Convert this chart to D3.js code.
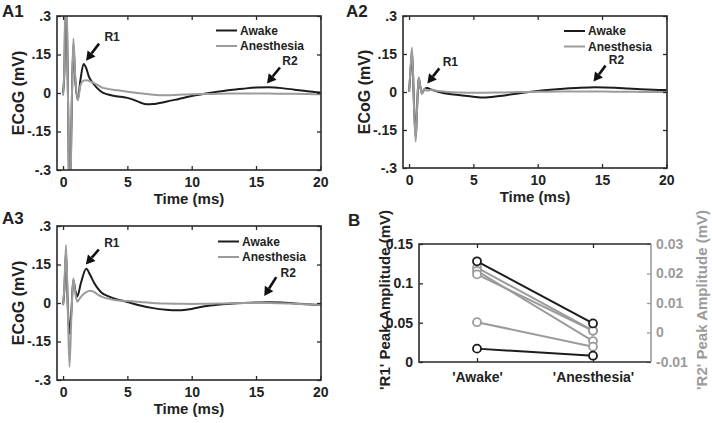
<!DOCTYPE html>
<html><head><meta charset="utf-8">
<script src="https://cdn.jsdelivr.net/npm/d3@7"></script>
<style>
body{margin:0;background:#fff}
svg{display:block}
text{font-family:"Liberation Sans",Arial,sans-serif;font-weight:bold}
</style>
</head><body><svg id="c" width="712" height="423" fill="#222"></svg>
<script>
// ---------------- data ----------------
const seriesNames = ["Awake", "Anesthesia"];
const timeTicks = [0, 5, 10, 15, 20];
const ecogTicks = [-0.3, -0.15, 0, 0.15, 0.3];
const ecogTickLabels = ["-.3", "-.15", "0", ".15", ".3"];

// Panel A1 (time in ms, ECoG in mV)
const a1Time  = [0, 0.1, 0.22, 0.38, 0.52, 0.66, 0.8, 0.95, 1.15, 1.35, 1.6, 1.8, 2.0, 2.3, 2.6, 3, 3.5, 4, 4.5, 5, 5.5, 6, 6.5, 7, 8, 9, 10, 11, 12, 13, 14, 15, 16, 17, 18, 19, 20];
const a1Awake = [0, 0.08, 0.45, 0, -0.5, -0.1, 0.19, 0.05, -0.025, 0.05, 0.113, 0.097, 0.065, 0.04, 0.022, 0.004, -0.006, -0.012, -0.015, -0.019, -0.027, -0.037, -0.044, -0.043, -0.034, -0.023, -0.012, -0.003, 0.005, 0.012, 0.017, 0.021, 0.022, 0.019, 0.013, 0.007, 0.002];
const a1Anes  = [-0.01, 0.1, 0.5, 0, -0.55, -0.1, 0.212, 0.06, -0.028, 0.03, 0.048, 0.05, 0.048, 0.041, 0.034, 0.022, 0.016, 0.012, 0.009, 0.005, 0.002, -0.001, -0.004, -0.007, -0.009, -0.007, -0.005, -0.004, -0.003, -0.002, -0.002, -0.002, -0.002, -0.003, -0.003, -0.004, -0.005];

// Panel A2
const a2Time  = [0, 0.1, 0.23, 0.38, 0.52, 0.65, 0.75, 0.88, 1.0, 1.2, 1.4, 1.7, 2, 2.5, 3, 4, 5, 5.8, 7, 8, 9, 10, 11, 12, 13, 14.5, 16, 17, 18, 19, 20];
const a2Awake = [0, 0.07, 0.16, -0.04, -0.18, -0.03, 0.055, 0.02, -0.005, 0.012, 0.016, 0.01, 0.005, -0.002, -0.007, -0.013, -0.019, -0.022, -0.016, -0.009, -0.002, 0.004, 0.009, 0.013, 0.016, 0.019, 0.017, 0.014, 0.011, 0.009, 0.008];
const a2Anes  = [0, 0.08, 0.176, -0.05, -0.196, -0.03, 0.058, 0.02, -0.008, 0.012, 0.005, 0.008, 0.006, 0.003, 0, -0.002, -0.003, -0.003, -0.002, -0.001, 0, 0.001, 0.001, 0.002, 0.002, 0.002, 0.001, 0.001, 0, 0, 0];

// Panel A3
const a3Time  = [0, 0.1, 0.23, 0.36, 0.5, 0.65, 0.8, 0.95, 1.1, 1.4, 1.8, 2.1, 2.4, 2.7, 3, 3.5, 4, 5, 6, 7, 8, 9, 10, 11, 12, 13, 14, 15, 16, 17, 18, 19, 20];
const a3Awake = [-0.008, 0.05, 0.2, 0, -0.12, -0.03, 0.09, 0.05, 0.025, 0.08, 0.133, 0.11, 0.08, 0.057, 0.04, 0.027, 0.017, 0.004, -0.01, -0.02, -0.026, -0.028, -0.023, -0.013, -0.007, -0.003, 0, 0.002, 0.003, 0.002, -0.002, -0.005, -0.008];
const a3Anes  = [-0.008, 0.06, 0.226, 0, -0.248, -0.05, 0.096, 0.04, 0.005, 0.025, 0.042, 0.048, 0.043, 0.033, 0.025, 0.017, 0.012, 0.008, 0.004, 0, -0.002, -0.003, -0.004, -0.003, -0.002, -0.001, 0, 0, 0, -0.001, -0.003, -0.005, -0.008];

// Panel B (peak amplitudes, mV)
const bCategories = ["'Awake'", "'Anesthesia'"];
const r1Awake = [0.128, 0.017];
const r1Anes  = [0.049, 0.008];
const r2Awake = [0.022, 0.0209, 0.0197, 0.0035];
const r2Anes  = [0.0006, -0.0029, 0.0006, -0.0048];
const r1Ticks = [0, 0.05, 0.1, 0.15];
const r1TickLabels = ["0", "0.05", "0.1", "0.15"];
const r2Ticks = [-0.01, 0, 0.01, 0.02, 0.03];
const r2TickLabels = ["-0.01", "0", "0.01", "0.02", "0.03"];

// ---------------- drawing ----------------
const BLACK = "#1c1c1c", GRAY = "#9b9b9b", AX = "#2a2a2a", TXT = "#222";
const svg = d3.select("#c");

function arrow(g, tipX, tipY, dx, dy) {
  const tx = tipX + dx, ty = tipY + dy;
  const len = Math.hypot(dx, dy), ux = -dx / len, uy = -dy / len;
  const hl = 9, hw = 5;
  const bx = tipX - ux * hl, by = tipY - uy * hl;
  g.append("line").attr("x1", tx).attr("y1", ty).attr("x2", bx).attr("y2", by)
    .attr("stroke", "#111").attr("stroke-width", 2.6);
  g.append("path")
    .attr("d", d3.line()([[tipX, tipY], [bx - uy * hw, by + ux * hw], [bx + uy * hw, by - ux * hw]]) + "Z")
    .attr("fill", "#111");
}

function styleAxis(a, color) {
  a.select(".domain").remove();
  a.selectAll("line").attr("stroke", color || AX).attr("stroke-width", 1.3);
  a.selectAll("text").attr("font-size", 14).attr("fill", color || TXT)
    .attr("font-family", '"Liberation Sans",Arial,sans-serif').attr("font-weight", "bold");
}

function tracePanel(cfg) {
  const {x0, x1, y0, y1, time, awake, anes, tag, tagX, tagY, id, arrows, legX, legY} = cfg;
  const x = d3.scaleLinear().domain([-0.47, 20.05]).range([x0, x1]);
  const y = d3.scaleLinear().domain([-0.3, 0.3]).range([y1, y0]);
  const g = svg.append("g");

  g.append("clipPath").attr("id", id).append("rect")
    .attr("x", x0).attr("y", y0).attr("width", x1 - x0).attr("height", y1 - y0);

  const line = d3.line().x((d, i) => x(time[i])).y(d => y(d)).curve(d3.curveMonotoneX);
  g.append("path").attr("d", line(awake)).attr("fill", "none").attr("stroke", BLACK)
    .attr("stroke-width", 2).attr("clip-path", `url(#${id})`);
  g.append("path").attr("d", line(anes)).attr("fill", "none").attr("stroke", GRAY)
    .attr("stroke-width", 2).attr("clip-path", `url(#${id})`);

  const fmtY = d => ecogTickLabels[ecogTicks.indexOf(d)];
  const ax = (a) => a.tickSizeOuter(0).tickSizeInner(-4);
  const gb = g.append("g").attr("transform", `translate(0,${y1})`)
    .call(ax(d3.axisBottom(x).tickValues(timeTicks).tickPadding(7)));
  const gl = g.append("g").attr("transform", `translate(${x0},0)`)
    .call(ax(d3.axisLeft(y).tickValues(ecogTicks).tickFormat(fmtY).tickPadding(6)));
  const gt = g.append("g").attr("transform", `translate(0,${y0})`)
    .call(ax(d3.axisTop(x).tickValues(timeTicks).tickFormat("")));
  const gr = g.append("g").attr("transform", `translate(${x1},0)`)
    .call(ax(d3.axisRight(y).tickValues(ecogTicks).tickFormat("")));
  [gb, gl, gt, gr].forEach(a => styleAxis(a));
  g.append("rect").attr("x", x0).attr("y", y0).attr("width", x1 - x0).attr("height", y1 - y0)
    .attr("fill", "none").attr("stroke", AX).attr("stroke-width", 1.6);

  g.append("text").attr("x", (x0 + x1) / 2).attr("y", y1 + 34).attr("text-anchor", "middle")
    .attr("font-size", 15).text("Time (ms)");
  g.append("text").attr("transform", `translate(${x0 - 33},${(y0 + y1) / 2}) rotate(-90)`)
    .attr("text-anchor", "middle").attr("font-size", 16).text("ECoG (mV)");
  g.append("text").attr("x", tagX).attr("y", tagY).attr("font-size", 17).text(tag);

  arrows.forEach(a => {
    const px = x(a.t), py = y(a.v);
    arrow(g, px, py, a.dx, a.dy);
    g.append("text").attr("x", px + a.lx).attr("y", py + a.ly).attr("text-anchor", "middle")
      .attr("dy", "0.35em").attr("font-size", 12).text(a.label);
  });

  [BLACK, GRAY].forEach((c, i) => {
    const ly = legY + i * 15.5;
    g.append("line").attr("x1", legX).attr("x2", legX + 21).attr("y1", ly).attr("y2", ly)
      .attr("stroke", c).attr("stroke-width", 2);
    g.append("text").attr("x", legX + 24).attr("y", ly).attr("dy", "0.36em")
      .attr("font-size", 12).text(seriesNames[i]);
  });
}

tracePanel({x0: 57, x1: 321, y0: 16, y1: 170, time: a1Time, awake: a1Awake, anes: a1Anes,
  tag: "A1", tagX: 2, tagY: 17, id: "cA1", legX: 216, legY: 30.5,
  arrows: [{label: "R1", t: 1.79, v: 0.126, dx: 13, dy: -17, lx: 26, ly: -24},
           {label: "R2", t: 15.85, v: 0.037, dx: 13, dy: -16, lx: 23, ly: -23}]});
tracePanel({x0: 403, x1: 667, y0: 16, y1: 168, time: a2Time, awake: a2Awake, anes: a2Anes,
  tag: "A2", tagX: 346, tagY: 17, id: "cA2", legX: 564, legY: 31,
  arrows: [{label: "R1", t: 1.42, v: 0.034, dx: 12, dy: -15, lx: 23, ly: -22},
           {label: "R2", t: 14.34, v: 0.041, dx: 12, dy: -16, lx: 23, ly: -22}]});
tracePanel({x0: 57, x1: 321, y0: 226, y1: 380, time: a3Time, awake: a3Awake, anes: a3Anes,
  tag: "A3", tagX: 2, tagY: 224, id: "cA3", legX: 218, legY: 241.5,
  arrows: [{label: "R1", t: 1.77, v: 0.15, dx: 13, dy: -15, lx: 26, ly: -22},
           {label: "R2", t: 15.64, v: 0.027, dx: 12, dy: -19, lx: 24, ly: -23}]});

// ---------------- Panel B ----------------
(function () {
  const x0 = 419, x1 = 651, y0 = 244, y1 = 362;
  const g = svg.append("g");
  const x = d3.scalePoint().domain(bCategories).range([x0, x1]).padding(0.5);
  const yL = d3.scaleLinear().domain([0, 0.15]).range([y1, y0]);
  const yR = d3.scaleLinear().domain([-0.01, 0.03]).range([y1, y0]);

  const ax = (a) => a.tickSizeOuter(0).tickSizeInner(-4);
  const gb = g.append("g").attr("transform", `translate(0,${y1})`)
    .call(ax(d3.axisBottom(x).tickPadding(10)));
  const gt = g.append("g").attr("transform", `translate(0,${y0})`)
    .call(ax(d3.axisTop(x).tickFormat("")));
  const gl = g.append("g").attr("transform", `translate(${x0},0)`)
    .call(ax(d3.axisLeft(yL).tickValues(r1Ticks).tickFormat(d => r1TickLabels[r1Ticks.indexOf(d)]).tickPadding(6)));
  const gr = g.append("g").attr("transform", `translate(${x1},0)`)
    .call(ax(d3.axisRight(yR).tickValues(r2Ticks).tickFormat(d => r2TickLabels[r2Ticks.indexOf(d)]).tickPadding(5)));
  [gb, gt, gl].forEach(a => styleAxis(a));
  styleAxis(gr, GRAY);

  g.append("path").attr("d", d3.line()([[x1, y0], [x0, y0], [x0, y1], [x1, y1]]))
    .attr("fill", "none").attr("stroke", AX).attr("stroke-width", 1.6);
  g.append("line").attr("x1", x1).attr("x2", x1).attr("y1", y0).attr("y2", y1)
    .attr("stroke", GRAY).attr("stroke-width", 1.6);

  const [ca, cb] = bCategories;
  r2Awake.forEach((v, i) => {
    g.append("line").attr("x1", x(ca)).attr("y1", yR(v)).attr("x2", x(cb)).attr("y2", yR(r2Anes[i]))
      .attr("stroke", GRAY).attr("stroke-width", 2);
  });
  r2Awake.forEach((v, i) => {
    [[ca, v], [cb, r2Anes[i]]].forEach(([c, val]) =>
      g.append("circle").attr("cx", x(c)).attr("cy", yR(val)).attr("r", 4)
        .attr("fill", "#fff").attr("stroke", GRAY).attr("stroke-width", 1.8));
  });
  r1Awake.forEach((v, i) => {
    g.append("line").attr("x1", x(ca)).attr("y1", yL(v)).attr("x2", x(cb)).attr("y2", yL(r1Anes[i]))
      .attr("stroke", BLACK).attr("stroke-width", 2);
  });
  r1Awake.forEach((v, i) => {
    [[ca, v], [cb, r1Anes[i]]].forEach(([c, val]) =>
      g.append("circle").attr("cx", x(c)).attr("cy", yL(val)).attr("r", 4)
        .attr("fill", "#fff").attr("stroke", BLACK).attr("stroke-width", 1.8));
  });

  g.append("text").attr("transform", `translate(390,300) rotate(-90)`)
    .attr("text-anchor", "middle").attr("font-size", 15).attr("fill", TXT).text("'R1' Peak Amplitude (mV)");
  g.append("text").attr("transform", `translate(707,300) rotate(-90)`)
    .attr("text-anchor", "middle").attr("font-size", 15).attr("fill", GRAY).text("'R2' Peak Amplitude (mV)");
  g.append("text").attr("x", 348).attr("y", 226).attr("font-size", 17).attr("fill", TXT).text("B");
})();
</script>
</body></html>
